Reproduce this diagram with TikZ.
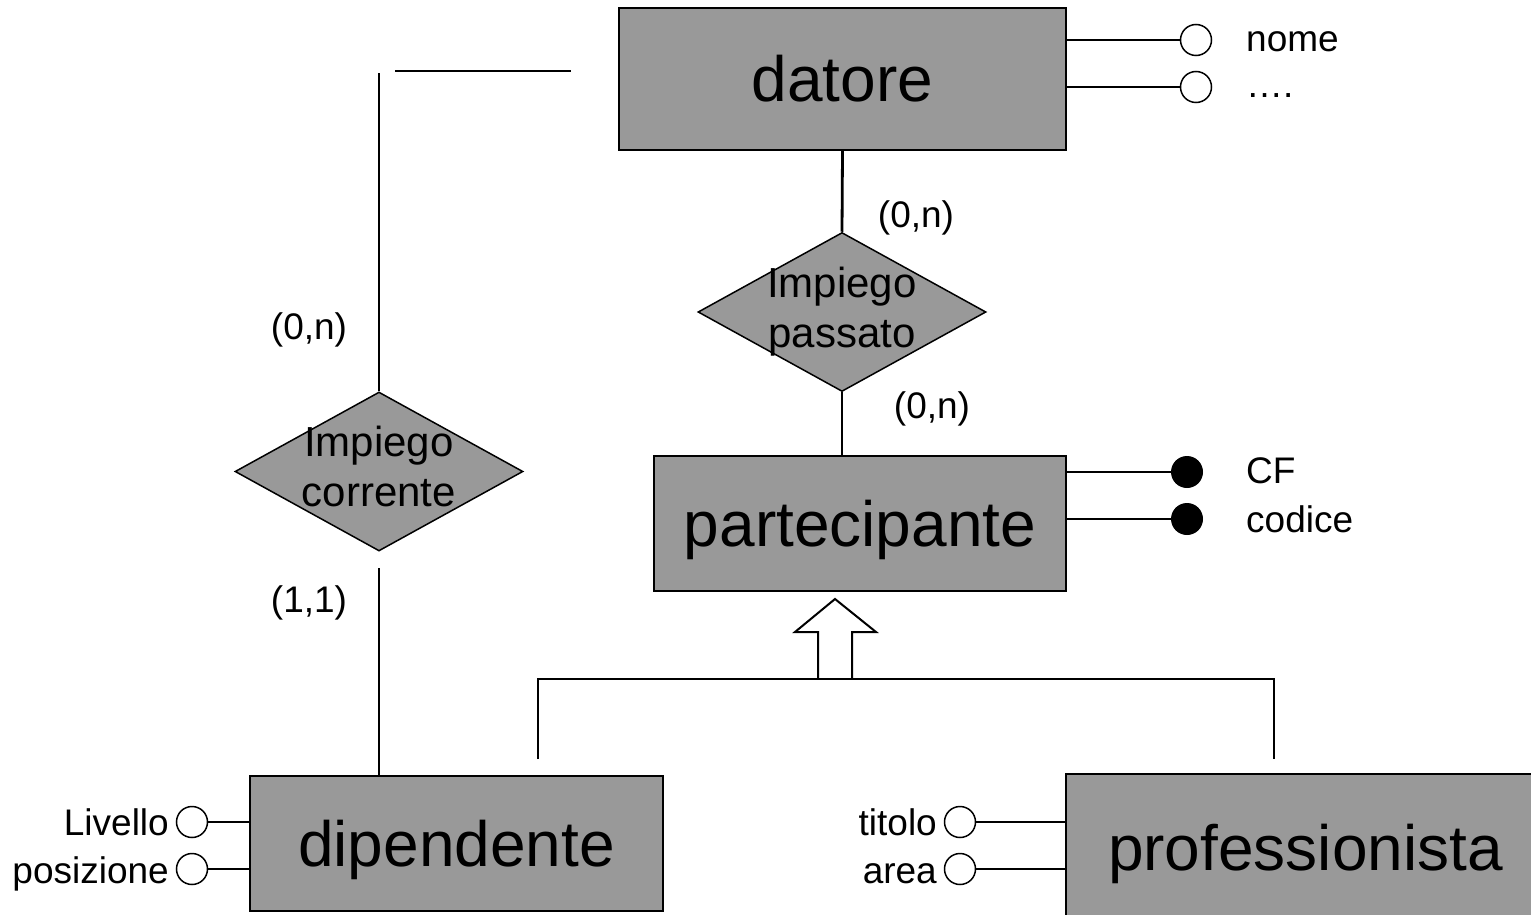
\documentclass[tikz,border=0pt]{standalone}
\usepackage{fontspec}
\setmainfont{Liberation Sans}
\usetikzlibrary{shapes.geometric}
\definecolor{ergray}{RGB}{153,153,153}
\tikzset{
 entity/.style={draw, fill=ergray, line width=2pt, inner sep=0pt, text height=46pt, text depth=0pt, font=\fontsize{64}{70}\selectfont},
 reldia/.style={diamond, draw, fill=ergray, line width=1.5pt, inner sep=0pt, minimum width=288pt, minimum height=159pt},
 reltext/.style={align=center, font=\fontsize{42}{50}\selectfont, inner sep=0pt},
 conn/.style={line width=2.8pt},
 attr/.style={circle, draw, line width=1.5pt, minimum size=31pt, inner sep=0pt},
 keyattr/.style={circle, fill=black, minimum size=32pt, inner sep=0pt},
 lbl/.style={font=\fontsize{37}{44}\selectfont, inner sep=0pt},
}
\begin{document}
\begin{tikzpicture}[x=1pt,y=-1pt]
\useasboundingbox (0,0) rectangle (1531,915);
\clip (0,0) rectangle (1531,915);
% entities
\node[entity, minimum width=447pt, minimum height=142pt] (datore) at (842.5,79) {datore};
\node[entity, minimum width=412pt, minimum height=135pt] (part) at (860,523.5) {partecipante};
\node[entity, minimum width=413pt, minimum height=135pt] (dip) at (456.5,843.5) {dipendente};
\node[entity, minimum width=479pt, minimum height=146pt] (prof) at (1305.5,847) {professionista};
% relationships
\node[reldia] (pass) at (842,312) {};
\node[reltext] (passtxt) at (842,312) {Impiego\\passato};
\node[reldia] (corr) at (379,471.5) {};
\node[reltext] (corrtxt) at (379,466) {Impiego\\corrente};
% connectors
\draw[conn] (datore.south) -- (pass.north);
\draw[conn] (pass.south) -- (pass.south |- part.north);
\coordinate (cbend) at (379,73);
\draw[conn] (corr.north) -- (cbend);
\coordinate (hs) at (395,71);
\coordinate (he) at (571,71);
\draw[conn] (hs) -- (he);
\coordinate (clow) at (379,568);
\draw[conn] (clow) -- (clow |- dip.north);
% generalization
\coordinate (isa) at (835,679);
\draw[line width=2pt, fill=white] (isa) ++(-17,0) -- ++(0,-47) -- ++(-23,0) -- ++(40,-33) -- ++(41,33) -- ++(-24,0) -- ++(0,47);
\coordinate (hl) at (538,759);
\coordinate (hr) at (1274,759);
\draw[conn] (hl) -- ++(0,-80) -| (hr);
% datore attributes
\node[attr] (anome) at (1196,40) {};
\draw[conn] (anome.west -| datore.east) -- (anome.west);
\node[lbl, anchor=base west] (tnome) at (1246,52) {nome};
\node[attr] (adots) at (1196,87) {};
\draw[conn] (adots.west -| datore.east) -- (adots.west);
\node[lbl, anchor=base west] (tdots) at (1246,98) {….};
% partecipante identifiers
\node[keyattr] (kcf) at (1187,472) {};
\draw[conn] (kcf.west -| part.east) -- (kcf.west);
\node[lbl, anchor=base west] (tcf) at (1246,483) {CF};
\node[keyattr] (kcod) at (1187,519) {};
\draw[conn] (kcod.west -| part.east) -- (kcod.west);
\node[lbl, anchor=base west] (tcod) at (1246,532) {codice};
% dipendente attributes
\node[attr] (aliv) at (192,822) {};
\draw[conn] (aliv.east) -- (aliv.east -| dip.west);
\node[lbl, anchor=base east] (tliv) at (169,835) {Livello};
\node[attr] (apos) at (192,869) {};
\draw[conn] (apos.east) -- (apos.east -| dip.west);
\node[lbl, anchor=base east] (tpos) at (169,883) {posizione};
% professionista attributes
\node[attr] (atit) at (960,822) {};
\draw[conn] (atit.east) -- (atit.east -| prof.west);
\node[lbl, anchor=base east] (ttit) at (937,835) {titolo};
\node[attr] (aarea) at (960,869) {};
\draw[conn] (aarea.east) -- (aarea.east -| prof.west);
\node[lbl, anchor=base east] (tarea) at (937,883) {area};
% cardinalities
\node[lbl, anchor=base] (c1) at (916,227) {(0,n)};
\node[lbl, anchor=base] (c2) at (932,418) {(0,n)};
\node[lbl, anchor=base] (c3) at (309,339) {(0,n)};
\node[lbl, anchor=base] (c4) at (309,612) {(1,1)};
\end{tikzpicture}
\end{document}
